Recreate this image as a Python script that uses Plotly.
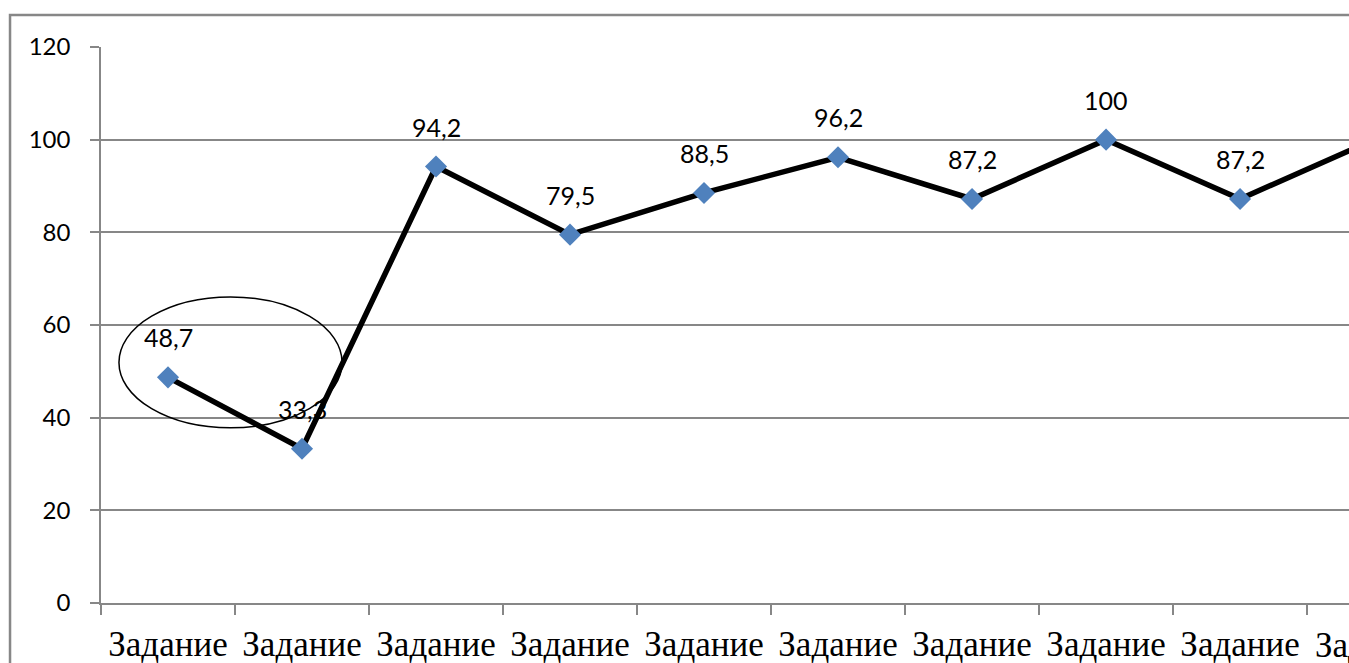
import plotly.graph_objects as go

# ---- data ----
task_index = [1, 2, 3, 4, 5, 6, 7, 8, 9, 10]
task_labels = ["Задание"] * 10
values = [48.7, 33.3, 94.2, 79.5, 88.5, 96.2, 87.2, 100, 87.2, 100]
value_text = ["48,7", "33,3", "94,2", "79,5", "88,5", "96,2", "87,2", "100", "87,2", "100"]
y_ticks = [0, 20, 40, 60, 80, 100, 120]

X_RANGE = [0.5, 9.813]
GRID = "#878787"
SERIF = "Liberation Serif"

fig = go.Figure()
fig.add_trace(go.Scatter(
    x=task_index, y=values, mode="lines+markers",
    line=dict(color="black", width=5.5),
    marker=dict(symbol="diamond", size=17, color="#4F81BD"),
    hoverinfo="skip", showlegend=False,
))

annotations = []
for xi, yi, t in zip(task_index, values, value_text):
    if X_RANGE[0] <= xi <= X_RANGE[1]:
        annotations.append(dict(
            x=xi, y=yi, xref="x", yref="y", text=t, showarrow=False,
            yshift=40, font=dict(family="Lato", size=25, color="black"),
        ))

# category labels beyond the visible range (cut by the window edge)
span = X_RANGE[1] - X_RANGE[0]
for xi, lab in zip(task_index, task_labels):
    if xi > X_RANGE[1]:
        annotations.append(dict(
            x=(xi - X_RANGE[0]) / span, y=0, xref="paper", yref="paper",
            text=lab, showarrow=False, yanchor="top", xanchor="center",
            yshift=-21, font=dict(family=SERIF, size=35, color="black"),
        ))

fig.update_layout(
    width=1349, height=663,
    margin=dict(l=101, r=0, t=47, b=60, autoexpand=False),
    paper_bgcolor="white", plot_bgcolor="white",
    annotations=annotations,
    shapes=[
        dict(type="circle", xref="x", yref="y", x0=0.634, x1=2.299, y0=37.8, y1=66.05,
             line=dict(color="black", width=1.5)),
        dict(type="rect", xref="paper", yref="paper", x0=-0.0729, x1=1.3, y0=-0.3, y1=1.0576,
             line=dict(color=GRID, width=2.5), layer="below"),
    ],
    xaxis=dict(
        range=X_RANGE, tickmode="array", tickvals=task_index, ticktext=task_labels,
        ticks="", showgrid=False, zeroline=False, tickangle=0, automargin=False,
        showline=True, linecolor=GRID, linewidth=1.5,
        tickfont=dict(family=SERIF, size=35, color="black"),
        ticklabelstandoff=9,
        minor=dict(tickmode="linear", tick0=0.5, dtick=1, ticks="outside",
                   ticklen=10, tickcolor=GRID, tickwidth=1.5, showgrid=False),
    ),
    yaxis=dict(
        range=[0, 120], tickmode="array", tickvals=y_ticks, automargin=False,
        ticks="outside", ticklen=9, tickcolor=GRID, tickwidth=1.5,
        showgrid=True, gridcolor=GRID, gridwidth=1.5, zeroline=False,
        showline=True, linecolor=GRID, linewidth=1.5,
        tickfont=dict(family="Lato", size=24, color="black"),
        ticklabelstandoff=15,
    ),
)

fig.write_html("out.html", config={"displayModeBar": False},
               post_script="document.body.style.margin='0';document.body.style.overflow='hidden';")
